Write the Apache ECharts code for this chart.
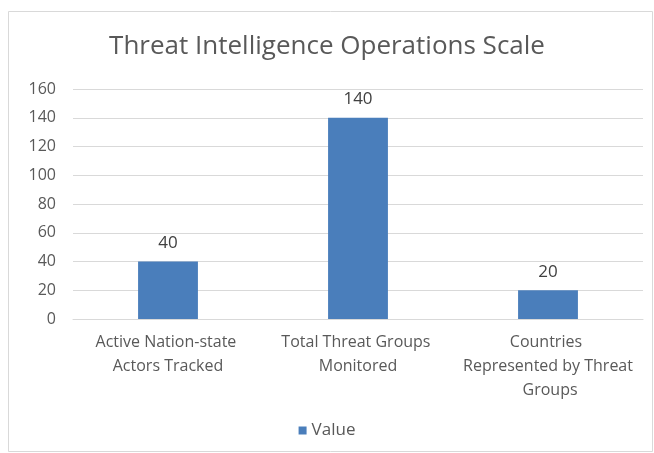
<!DOCTYPE html>
<html><head><meta charset="utf-8">
<script src="https://cdn.jsdelivr.net/npm/echarts@6/dist/echarts.min.js"></script>
<style>html,body{margin:0;padding:0;background:#fff}#c{width:654px;height:453px}</style>
</head><body><div id="c"></div>
<script>
const titleText = "Threat Intelligence Operations Scale";
const categories = ["Active Nation-state Actors Tracked", "Total Threat Groups Monitored", "Countries Represented by Threat Groups"];
const seriesName = "Value";
const values = [40, 140, 20];
const yTicks = [0, 20, 40, 60, 80, 100, 120, 140, 160];

const chart = echarts.init(document.getElementById('c'));
const font = "'Open Sans', 'Noto Sans', sans-serif";
chart.setOption({
  animation: false,
  textStyle: { fontFamily: font },
  graphic: [{
    type: 'rect', left: 8, top: 11, z: -1,
    shape: { width: 644, height: 440 },
    style: { fill: '#fff', stroke: '#d9d9d9', lineWidth: 1 }
  }],
  title: {
    text: titleText, left: 'center', top: 29,
    textStyle: { fontFamily: font, fontSize: 26, fontWeight: 'normal', color: '#595959' }
  },
  legend: {
    bottom: 9, left: 'center', itemWidth: 8, itemHeight: 8, itemGap: 8,
    icon: 'rect',
    textStyle: { fontFamily: font, fontSize: 17, color: '#595959' },
    data: [seriesName]
  },
  grid: { left: 73, right: 11, top: 89, height: 230, containLabel: false },
  xAxis: {
    type: 'category', data: categories,
    axisLine: { lineStyle: { color: '#d9d9d9' } },
    axisTick: { show: false },
    axisLabel: {
      interval: 0, width: 170.6, overflow: 'break', lineHeight: 24, margin: 11,
      fontFamily: font, fontSize: 16, color: '#595959'
    }
  },
  yAxis: {
    type: 'value', min: yTicks[0], max: yTicks[yTicks.length - 1], interval: 20,
    axisLine: { show: false }, axisTick: { show: false },
    splitLine: { lineStyle: { color: '#d9d9d9' } },
    axisLabel: { fontFamily: font, fontSize: 16, color: '#595959', margin: 17 }
  },
  series: [{
    name: seriesName, type: 'bar', data: values, barWidth: '31.5%',
    itemStyle: { color: '#4a7ebb' },
    label: { show: true, position: 'top', distance: 10, fontFamily: font, fontSize: 17, color: '#404040' }
  }]
});
</script></body></html>
